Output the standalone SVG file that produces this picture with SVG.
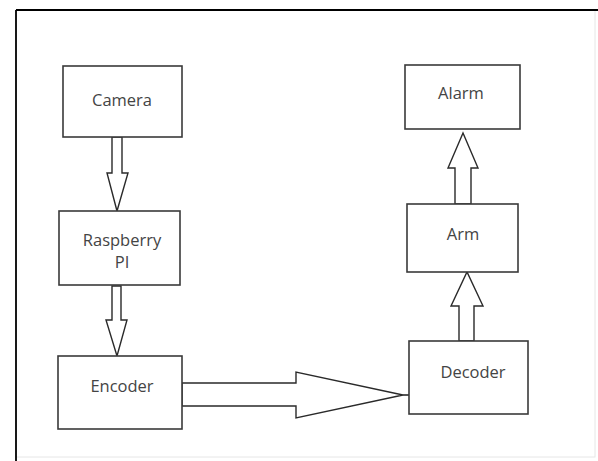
<svg xmlns="http://www.w3.org/2000/svg" width="598" height="461" viewBox="0 0 598 461">
<style>
.box{fill:#fff;stroke:#3a3a3a;stroke-width:1.6}
.arr{fill:#fff;stroke:#2a2a2a;stroke-width:1.4;stroke-linejoin:miter}
.lbl{font-family:"Open Sans","Noto Sans",sans-serif;font-size:16.5px;fill:#444;text-anchor:middle}
</style>
<rect width="598" height="461" fill="#fff"/>
<g id="frame">
<rect x="16" y="10" width="579" height="447" fill="none" stroke="#e6e6e6" stroke-width="1"/>
<line x1="16" y1="10" x2="598" y2="10" stroke="#000" stroke-width="1.8"/>
<line x1="16" y1="10" x2="16" y2="461" stroke="#000" stroke-width="1.8"/>
</g>
<g id="connectors">
<polygon class="arr" points="112,137 122,137 122,173 128,173 117,211 107,173 112,173"/>
<polygon class="arr" points="112,286 121,286 121,320 127,320 117,356 106,320 112,320"/>
<polygon class="arr" points="182,383 296,383 296,372 403,395 296,418 296,406 182,406"/>
<line x1="403" y1="395" x2="409" y2="395" stroke="#2a2a2a" stroke-width="1.6"/>
<polygon class="arr" points="459,341 474,341 474,306 483,306 467,272 451,306 459,306"/>
<polygon class="arr" points="455,204 471,204 471,168 478,168 463,133 448,168 455,168"/>
</g>
<g id="camera">
<rect class="box" x="63" y="66" width="119" height="71"/>
<text class="lbl" x="122" y="106">Camera</text>
</g>
<g id="raspberry">
<rect class="box" x="59" y="211" width="121" height="74"/>
<text class="lbl" x="122" y="246">Raspberry</text>
<text class="lbl" x="122" y="268">PI</text>
</g>
<g id="encoder">
<rect class="box" x="58" y="356" width="124" height="73"/>
<text class="lbl" x="122" y="392">Encoder</text>
</g>
<g id="decoder">
<rect class="box" x="409" y="341" width="119" height="73"/>
<text class="lbl" x="473" y="378">Decoder</text>
</g>
<g id="arm">
<rect class="box" x="407" y="204" width="111" height="68"/>
<text class="lbl" x="463" y="240">Arm</text>
</g>
<g id="alarm">
<rect class="box" x="405" y="65" width="115" height="64"/>
<text class="lbl" x="461" y="99">Alarm</text>
</g>
</svg>
